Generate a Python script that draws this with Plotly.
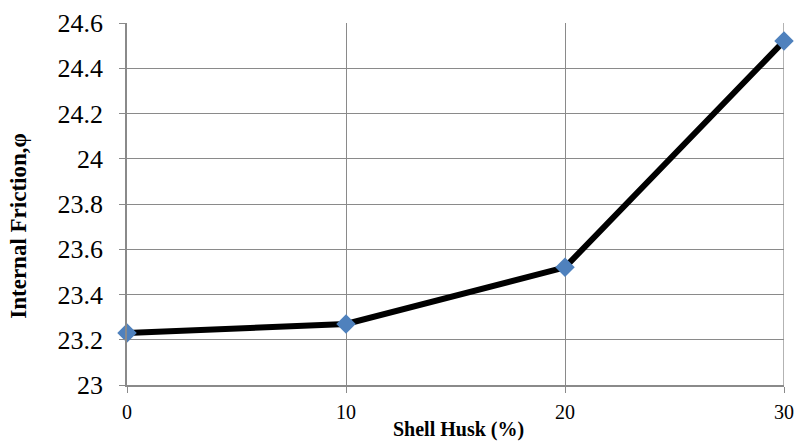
import plotly.graph_objects as go

shell_husk = [0, 10, 20, 30]
internal_friction = [23.23, 23.27, 23.52, 24.52]
y_ticks = [23, 23.2, 23.4, 23.6, 23.8, 24, 24.2, 24.4, 24.6]
y_tick_labels = ["23", "23.2", "23.4", "23.6", "23.8", "24", "24.2", "24.4", "24.6"]
x_ticks = [0, 10, 20, 30]
x_title = "Shell Husk (%)"
y_title = "Internal Friction,φ"

grid = "#8a8a8a"
font = "Liberation Serif"

fig = go.Figure()
fig.add_trace(go.Scatter(
    x=shell_husk, y=internal_friction, mode="lines+markers",
    line=dict(color="black", width=6),
    marker=dict(symbol="diamond", size=15, color="#4F81BD"),
    cliponaxis=False, showlegend=False,
))

fig.update_layout(
    width=798, height=442,
    margin=dict(l=127, r=14, t=23, b=57),
    paper_bgcolor="white", plot_bgcolor="white",
    font=dict(family=font, color="black"),
)
fig.update_xaxes(
    range=[0, 30], tickvals=x_ticks, ticktext=[str(v) for v in x_ticks],
    showgrid=True, gridcolor=grid, gridwidth=1.3,
    showline=True, linecolor=grid, linewidth=1.5,
    ticks="outside", ticklen=6, tickcolor=grid, tickwidth=1.3,
    tickfont=dict(size=20, family=font), ticklabelstandoff=2,
    zeroline=False, automargin=False,
)
fig.update_yaxes(
    range=[23, 24.6], tickvals=y_ticks, ticktext=y_tick_labels,
    showgrid=True, gridcolor=grid, gridwidth=1.3,
    showline=True, linecolor=grid, linewidth=1.5,
    ticks="outside", ticklen=6, tickcolor=grid, tickwidth=1.3,
    tickfont=dict(size=26, family=font), ticklabelstandoff=11,
    zeroline=False, automargin=False,
)
fig.add_shape(type="line", xref="x", yref="y", x0=30, x1=30, y0=23, y1=24.6,
              line=dict(color=grid, width=1.3), layer="below")

fig.add_annotation(text="<b>" + x_title + "</b>", xref="paper", yref="paper",
                   x=0.505, y=0, yshift=-44, xanchor="center", yanchor="middle",
                   showarrow=False, font=dict(size=20, family=font, color="black"))
fig.add_annotation(text="<b>" + y_title + "</b>", xref="paper", yref="paper",
                   x=0, xshift=-108, y=0.44, xanchor="center", yanchor="middle",
                   textangle=-90, showarrow=False,
                   font=dict(size=23, family=font, color="black"))

fig.write_html(
    "out.html",
    config={"displayModeBar": False},
    post_script="document.body.style.margin='0';document.body.style.overflow='hidden';",
)
